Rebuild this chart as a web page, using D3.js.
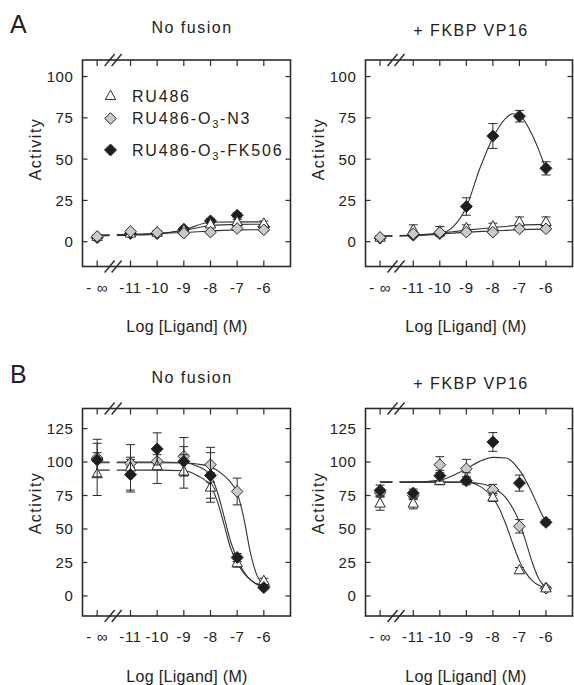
<!DOCTYPE html>
<html>
<head>
<meta charset="utf-8">
<script src="https://cdn.jsdelivr.net/npm/d3@7"></script>
<style>
  body { margin: 0; background: #fff; }
  svg { display: block; }
  text { font-family: "Liberation Sans", Arial, Helvetica, sans-serif; fill: #222; }
</style>
</head>
<body>
<svg id="chart" width="574" height="685"></svg>
<script>
const NEG_INF = -Infinity;

// x categories (log molar), -Infinity = no ligand
const logConc = [NEG_INF, -11, -10, -9, -8, -7, -6];
const xTickLabels = ["- \u221e", "-11", "-10", "-9", "-8", "-7", "-6"];
const yTicksA = [0, 25, 50, 75, 100];
const yTicksB = [0, 25, 50, 75, 100, 125];

// A, no fusion
const aNoFusionTri = [3, 5, 5.5, 7, 10.5, 12, 11];
const aNoFusionTriErr = [1, 1, 1, 1, 1.5, 1.5, 1.5];
const aNoFusionGrey = [3.2, 6.2, 5.6, 5.2, 5.8, 8, 7.2];
const aNoFusionGreyErr = [1, 1, 1, 1, 1, 1, 1];
const aNoFusionBlack = [2.5, 5, 5, 7.6, 12.6, 16, 9];
const aNoFusionBlackErr = [1, 1, 1, 1, 1.5, 1.5, 1];
const aNoFusionTriFit = [[NEG_INF, 3.8], [-11, 4.2], [-10, 5], [-9, 6.8], [-8, 9.8], [-7, 10.5], [-6, 10.6]];
const aNoFusionGreyFit = [[NEG_INF, 4], [-11, 4.5], [-10, 5], [-9, 5.6], [-8, 6.5], [-7, 7.2], [-6, 7.3]];
const aNoFusionBlackFit = [[NEG_INF, 3.6], [-11, 4], [-10, 4.6], [-9, 7.2], [-8, 11.8], [-7, 12], [-6, 12]];

// A, + FKBP VP16
const aFkbpTri = [2.5, 7.2, 6.2, 8.2, 9.2, 12, 12];
const aFkbpTriErr = [1, 3, 3, 2, 2, 3, 3];
const aFkbpGrey = [2.6, 4.8, 5.6, 5.8, 5.8, 7.8, 7.8];
const aFkbpGreyErr = [1, 1, 1, 1, 1, 1, 1];
const aFkbpBlack = [2.2, 4, 5, 21.3, 64, 76, 44.4];
const aFkbpBlackErr = [1, 1, 1, 5.3, 7.5, 3.5, 4];
const aFkbpTriFit = [[NEG_INF, 3.5], [-11, 4], [-10, 5.2], [-9, 7], [-8, 8.5], [-7, 10], [-6, 10.5]];
const aFkbpGreyFit = [[NEG_INF, 3.5], [-11, 3.8], [-10, 4.6], [-9, 5.8], [-8, 6.5], [-7, 7.3], [-6, 7.6]];
const aFkbpBlackFit = [[NEG_INF, 3.5], [-11, 3.8], [-10, 5], [-9.5, 9], [-9, 21], [-8.5, 44], [-8, 63],
  [-7.5, 75], [-7.25, 77.5], [-7, 76.5], [-6.5, 64], [-6, 44]];

// B, no fusion
const bNoFusionTri = [91, 96, 97, 93, 81, 24.5, 11.2];
const bNoFusionTriErr = [16, 17, 13, 12.5, 11, 3, 2];
const bNoFusionGrey = [103, 99, 100.5, 104.3, 98, 78, 7.5];
const bNoFusionGreyErr = [14, 3, 5, 14, 13, 10, 2];
const bNoFusionBlack = [101.5, 90.6, 109.8, 100.5, 90, 28.7, 6.2];
const bNoFusionBlackErr = [12.5, 13, 12, 11, 17, 3, 1];
const bNoFusionTriFit = [[NEG_INF, 94], [-11, 94], [-10, 94], [-9, 93.5], [-8.5, 90], [-8, 82], [-7.75, 71],
  [-7.5, 54], [-7.25, 36], [-7, 25], [-6.75, 17], [-6.5, 12], [-6.25, 9], [-6, 8]];
const bNoFusionGreyFit = [[NEG_INF, 99.5], [-11, 99.5], [-10, 99.5], [-9, 99.3], [-8.5, 98.5], [-8, 96.5],
  [-7.5, 90], [-7.25, 85], [-7, 77], [-6.75, 58], [-6.5, 32], [-6.25, 15], [-6, 8]];
const bNoFusionBlackFit = [[NEG_INF, 100], [-11, 100], [-10, 100], [-9, 99.5], [-8.5, 97], [-8, 90], [-7.75, 78],
  [-7.5, 60], [-7.25, 41], [-7, 28], [-6.75, 18], [-6.5, 12], [-6.25, 8.5], [-6, 7]];

// B, + FKBP VP16
const bFkbpTri = [69, 69, 86, 88, 73.6, 19.2, 5.7];
const bFkbpTriErr = [5, 4, 3, 4, 3, 2, 1];
const bFkbpGrey = [77, 75, 98, 95, 79.3, 52, 5.7];
const bFkbpGreyErr = [3, 3, 6, 7, 4, 5, 1];
const bFkbpBlack = [78.8, 76.8, 89.8, 86, 115, 84.3, 55];
const bFkbpBlackErr = [4, 3, 4, 3, 7, 6, 2];
const bFkbpTriFit = [[NEG_INF, 85], [-11, 85], [-10, 85], [-9, 85], [-8.5, 82], [-8, 73], [-7.75, 65],
  [-7.5, 53], [-7.25, 39], [-7, 26], [-6.75, 17], [-6.5, 11], [-6, 6]];
const bFkbpGreyFit = [[NEG_INF, 85], [-11, 85], [-10, 85], [-9, 84.8], [-8.5, 84], [-8, 81], [-7.5, 73],
  [-7, 55], [-6.75, 40], [-6.5, 24], [-6.25, 12], [-6, 6]];
const bFkbpBlackFit = [[NEG_INF, 85], [-11, 85], [-10, 86.5], [-9.5, 90], [-9, 95], [-8.5, 100.5], [-8, 103.5],
  [-7.5, 103], [-7, 94], [-6.5, 76], [-6.25, 65], [-6, 55]];

const legendNames = [["RU486", ""], ["RU486-O", "3", "-N3"], ["RU486-O", "3", "-FK506"]];

const svg = d3.select("#chart");
const INF_POS = -12.25;   // where "- inf" sits on the log axis
const BREAK_POS = -11.65; // axis break

function series(kind, vals, errs, fit) { return { kind, vals, errs, fit }; }

const panels = [
  { left: 82.5, right: 290.5, top: 60, bottom: 266.5, yDomain: [-15, 110], yTicks: yTicksA,
    title: "No fusion", titleX: 192, titleY: 33, letter: "A", actY: 149, legend: true,
    series: [series("black", aNoFusionBlack, aNoFusionBlackErr, aNoFusionBlackFit),
             series("tri", aNoFusionTri, aNoFusionTriErr, aNoFusionTriFit),
             series("grey", aNoFusionGrey, aNoFusionGreyErr, aNoFusionGreyFit)] },
  { left: 365.5, right: 572.5, top: 60, bottom: 266.5, yDomain: [-15, 110], yTicks: yTicksA,
    title: "+ FKBP VP16", titleX: 471, titleY: 36, actY: 149,
    series: [series("black", aFkbpBlack, aFkbpBlackErr, aFkbpBlackFit),
             series("tri", aFkbpTri, aFkbpTriErr, aFkbpTriFit),
             series("grey", aFkbpGrey, aFkbpGreyErr, aFkbpGreyFit)] },
  { left: 82.5, right: 290.5, top: 408.5, bottom: 616, yDomain: [-15, 140], yTicks: yTicksB,
    title: "No fusion", titleX: 192, titleY: 382.5, letter: "B", actY: 503,
    series: [series("grey", bNoFusionGrey, bNoFusionGreyErr, bNoFusionGreyFit),
             series("tri", bNoFusionTri, bNoFusionTriErr, bNoFusionTriFit),
             series("black", bNoFusionBlack, bNoFusionBlackErr, bNoFusionBlackFit)] },
  { left: 365.5, right: 572.5, top: 408.5, bottom: 616, yDomain: [-15, 140], yTicks: yTicksB,
    title: "+ FKBP VP16", titleX: 471, titleY: 389, actY: 503,
    series: [series("grey", bFkbpGrey, bFkbpGreyErr, bFkbpGreyFit),
             series("tri", bFkbpTri, bFkbpTriErr, bFkbpTriFit),
             series("black", bFkbpBlack, bFkbpBlackErr, bFkbpBlackFit)] },
];

const ink = "#2b2b2b";

function marker(g, kind, cx, cy) {
  if (kind === "tri") {
    g.append("path")
      .attr("d", `M${cx},${cy - 5.8}L${cx + 5.2},${cy + 3.6}L${cx - 5.2},${cy + 3.6}Z`)
      .attr("fill", "#fff").attr("stroke", ink).attr("stroke-width", 1);
  } else {
    const r = kind === "black" ? 6 : 5.8;
    g.append("path")
      .attr("d", `M${cx},${cy - r}L${cx + r},${cy}L${cx},${cy + r}L${cx - r},${cy}Z`)
      .attr("fill", kind === "black" ? "#1e1e1e" : "#c9c9c9")
      .attr("stroke", ink).attr("stroke-width", 1);
  }
}

function drawPanel(p) {
  const x = d3.scaleLinear().domain([-12.8, -5]).range([p.left, p.right]);
  const y = d3.scaleLinear().domain(p.yDomain).range([p.bottom, p.top]);
  const xv = v => x(v === NEG_INF ? INF_POS : v);
  const g = svg.append("g");

  // fitted curves
  const line = d3.line().x(d => xv(d[0])).y(d => y(d[1])).curve(d3.curveMonotoneX);
  p.series.forEach(s => {
    g.append("path").attr("d", line(s.fit))
      .attr("fill", "none").attr("stroke", "#333").attr("stroke-width", 1.1);
  });
  // gap in the curves at the axis break
  g.append("rect")
    .attr("x", x(BREAK_POS) - 3.5).attr("y", p.top + 2)
    .attr("width", 7).attr("height", p.bottom - p.top - 4)
    .attr("fill", "#fff");

  // error bars and markers
  p.series.forEach(s => {
    const sg = g.append("g");
    s.vals.forEach((v, i) => {
      const cx = xv(logConc[i]);
      const e = s.errs[i];
      sg.append("path")
        .attr("d", `M${cx},${y(v - e)}V${y(v + e)}M${cx - 4.5},${y(v - e)}H${cx + 4.5}M${cx - 4.5},${y(v + e)}H${cx + 4.5}`)
        .attr("stroke", ink).attr("stroke-width", 1).attr("fill", "none");
    });
    s.vals.forEach((v, i) => marker(sg, s.kind, xv(logConc[i]), y(v)));
  });

  // frame
  g.append("rect")
    .attr("x", p.left).attr("y", p.top)
    .attr("width", p.right - p.left).attr("height", p.bottom - p.top)
    .attr("fill", "none").attr("stroke", ink).attr("stroke-width", 1.6);

  // ticks, all inward
  const tk = g.append("g").attr("stroke", ink).attr("stroke-width", 1.2);
  p.yTicks.forEach(t => {
    tk.append("line").attr("x1", p.left).attr("x2", p.left + 5).attr("y1", y(t)).attr("y2", y(t));
    tk.append("line").attr("x1", p.right - 5).attr("x2", p.right).attr("y1", y(t)).attr("y2", y(t));
  });
  logConc.forEach(v => {
    tk.append("line").attr("x1", xv(v)).attr("x2", xv(v)).attr("y1", p.top).attr("y2", p.top + 6);
    tk.append("line").attr("x1", xv(v)).attr("x2", xv(v)).attr("y1", p.bottom - 6).attr("y2", p.bottom);
  });

  // break marks
  const bx = x(BREAK_POS);
  [p.top, p.bottom].forEach(ay => {
    [-3.5, 3.5].forEach(o => {
      g.append("line")
        .attr("x1", bx + o - 5).attr("y1", ay + 6)
        .attr("x2", bx + o + 5).attr("y2", ay - 6)
        .attr("stroke", ink).attr("stroke-width", 1.4);
    });
  });

  // tick labels
  g.append("g").selectAll("text").data(p.yTicks).join("text")
    .attr("x", p.left - 9).attr("y", d => y(d)).attr("dy", "0.36em")
    .attr("text-anchor", "end").attr("font-size", 15).attr("letter-spacing", 0.6)
    .text(d => d);
  g.append("g").selectAll("text").data(logConc).join("text")
    .attr("x", d => xv(d)).attr("y", p.bottom + 26)
    .attr("text-anchor", "middle").attr("font-size", 15).attr("letter-spacing", 0.6)
    .text((d, i) => xTickLabels[i]);

  // axis titles
  g.append("text")
    .attr("transform", `translate(${p.left - 42},${p.actY}) rotate(-90)`)
    .attr("text-anchor", "middle").attr("font-size", 16).attr("letter-spacing", 1.5)
    .text("Activity");
  g.append("text")
    .attr("x", p.titleX - 5).attr("y", p.bottom + 65.5)
    .attr("text-anchor", "middle").attr("font-size", 16).attr("letter-spacing", 0.3)
    .text("Log [Ligand] (M)");
  g.append("text")
    .attr("x", p.titleX).attr("y", p.titleY)
    .attr("text-anchor", "middle").attr("font-size", 16).attr("letter-spacing", 1.5)
    .text(p.title);
  if (p.letter) {
    g.append("text").attr("x", 10).attr("y", p.titleY)
      .attr("font-size", 25).text(p.letter);
  }

  if (p.legend) {
    const kinds = ["tri", "grey", "black"];
    const rows = [96, 118.5, 150];
    kinds.forEach((k, i) => {
      marker(g, k, 110.5, rows[i]);
      const t = g.append("text").attr("x", 132).attr("y", rows[i] + 5.5)
        .attr("font-size", 16).attr("letter-spacing", 1.8);
      const parts = legendNames[i];
      t.append("tspan").text(parts[0]);
      if (parts.length > 2) {
        t.append("tspan").attr("dy", 4).attr("font-size", 11).text(parts[1]);
        t.append("tspan").attr("dy", -4).text(parts[2]);
      }
    });
  }
}

panels.forEach(drawPanel);
</script>
</body>
</html>
